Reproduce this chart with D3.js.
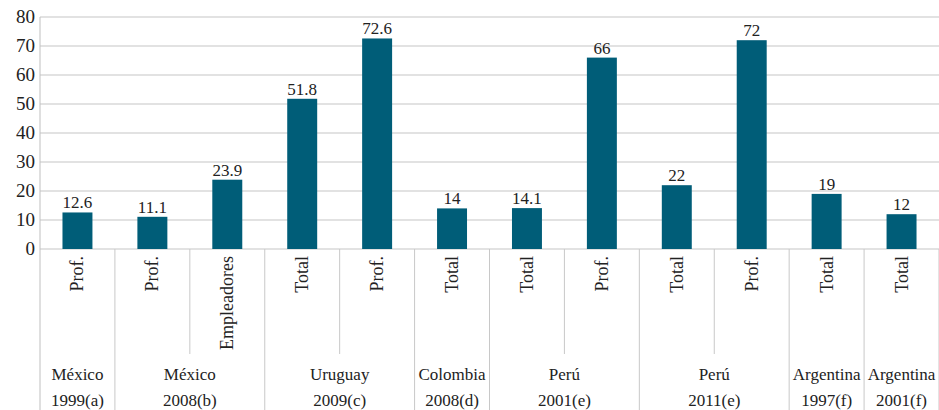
<!DOCTYPE html>
<html lang="es">
<head>
    <meta charset="UTF-8">
    <title>Chart</title>
    <style>
        body, html { margin: 0; padding: 0; background: #fff; }
    </style>
    <script src="https://d3js.org/d3.v7.min.js"></script>
</head>
<body>
<div id="chart"></div>
<script>
    // data
    const subLabels = ["Prof.", "Prof.", "Empleadores", "Total", "Prof.", "Total", "Total", "Prof.", "Total", "Prof.", "Total", "Total"];
    const values = [12.6, 11.1, 23.9, 51.8, 72.6, 14, 14.1, 66, 22, 72, 19, 12];
    const groupOf = [0, 1, 1, 2, 2, 3, 4, 4, 5, 5, 6, 7];
    const groupNames = [["México", "1999(a)"], ["México", "2008(b)"], ["Uruguay", "2009(c)"], ["Colombia", "2008(d)"],
        ["Perú", "2001(e)"], ["Perú", "2011(e)"], ["Argentina", "1997(f)"], ["Argentina", "2001(f)"]];
    const yTicks = [0, 10, 20, 30, 40, 50, 60, 70, 80];

    (function () {
        const width = 939, height = 410;
        const mLeft = 40, mRight = 939, mTop = 17, base = 249;
        const font = '"Liberation Serif"';

        const svg = d3.select('#chart').append('svg')
            .attr('width', width).attr('height', height);

        const x = d3.scaleBand().domain(d3.range(values.length)).range([mLeft, mRight]).paddingInner(0.6).paddingOuter(0.3);
        const xCat = d3.scaleBand().domain(d3.range(values.length)).range([mLeft, mRight]);
        const y = d3.scaleLinear().domain([0, 80]).range([base, mTop]);

        // grid
        svg.append('g').selectAll('line').data(yTicks).enter().append('line')
            .attr('x1', mLeft).attr('x2', mRight)
            .attr('y1', d => y(d)).attr('y2', d => y(d))
            .attr('stroke', '#d9d9d9').attr('stroke-width', 1.5);

        // y axis labels
        svg.append('g').selectAll('text').data(yTicks).enter().append('text')
            .attr('x', 35).attr('y', d => y(d) + 6)
            .attr('text-anchor', 'end').attr('fill', '#222')
            .style('font-family', font).style('font-size', '19px')
            .text(d => d);

        // bars
        svg.append('g').selectAll('rect').data(values).enter().append('rect')
            .attr('x', (d, i) => x(i)).attr('width', x.bandwidth())
            .attr('y', d => y(d)).attr('height', d => base - y(d))
            .attr('fill', '#005d78');

        // value labels
        svg.append('g').selectAll('text').data(values).enter().append('text')
            .attr('x', (d, i) => x(i) + x.bandwidth() / 2).attr('y', d => y(d) - 4)
            .attr('text-anchor', 'middle').attr('fill', '#222')
            .style('font-family', font).style('font-size', '17px')
            .text(d => d);

        // category separators
        const sep = svg.append('g').attr('stroke', '#c8c8c8').attr('stroke-width', 1);
        sep.append('line').attr('x1', mLeft).attr('x2', mLeft).attr('y1', mTop).attr('y2', height).attr('stroke', '#bfbfbf');
        for (let i = 1; i <= values.length; i++) {
            const xx = xCat(i - 1) + xCat.bandwidth();
            const boundary = i === values.length || groupOf[i] !== groupOf[i - 1];
            sep.append('line').attr('x1', xx).attr('x2', xx)
                .attr('y1', base).attr('y2', boundary ? height : 354);
        }

        // rotated sub labels
        svg.append('g').selectAll('text').data(subLabels).enter().append('text')
            .attr('transform', (d, i) => `translate(${xCat(i) + xCat.bandwidth() / 2 + 6},${base + 7}) rotate(-90)`)
            .attr('text-anchor', 'end').attr('fill', '#222')
            .style('font-family', font).style('font-size', '18px')
            .text(d => d);

        // group labels
        const groups = groupNames.map((g, gi) => {
            const idx = d3.range(values.length).filter(i => groupOf[i] === gi);
            const x0 = xCat(idx[0]), x1 = xCat(idx[idx.length - 1]) + xCat.bandwidth();
            return {name: g, cx: (x0 + x1) / 2};
        });
        const gl = svg.append('g').selectAll('text').data(groups).enter().append('text')
            .attr('text-anchor', 'middle').attr('fill', '#222')
            .style('font-family', font).style('font-size', '17px');
        gl.append('tspan').attr('x', d => d.cx).attr('y', 380).text(d => d.name[0]);
        gl.append('tspan').attr('x', d => d.cx).attr('y', 406).text(d => d.name[1]);
    }());
</script>
</body>
</html>
